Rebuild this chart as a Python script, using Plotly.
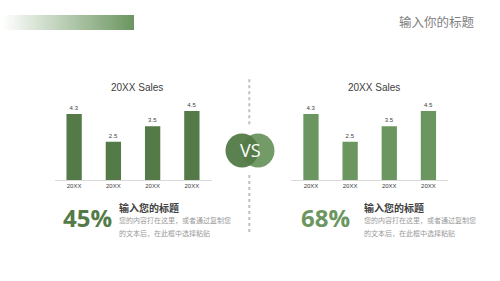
import plotly.graph_objects as go

W, H = 500, 281

categories = ["20XX", "20XX", "20XX", "20XX"]
left_values = [4.3, 2.5, 3.5, 4.5]
right_values = [4.3, 2.5, 3.5, 4.5]
chart_title = "20XX Sales"
page_title = "输入你的标题"
left_pct = "45%"
right_pct = "68%"
sub_title = "输入您的标题"
body_line1 = "您的内容打在这里，或者通过复制您"
body_line2 = "的文本后，在此框中选择粘贴"

DARK = "#537a47"
LIGHT = "#6b9660"
CJK = "Noto Sans CJK SC"


def px(x):
    return x / W


def py(y):
    return 1 - y / H


fig = go.Figure()

idx = list(range(len(categories)))
fig.add_trace(go.Bar(x=idx, y=left_values, marker=dict(color=DARK, line=dict(width=0)),
                     width=0.39, text=[str(v) for v in left_values], textposition="outside",
                     textfont=dict(size=6, color="#404040", family="Liberation Sans"),
                     cliponaxis=False, xaxis="x", yaxis="y"))
fig.add_trace(go.Bar(x=idx, y=right_values, marker=dict(color=LIGHT, line=dict(width=0)),
                     width=0.39, text=[str(v) for v in right_values], textposition="outside",
                     textfont=dict(size=6, color="#404040", family="Liberation Sans"),
                     cliponaxis=False, xaxis="x2", yaxis="y2"))

ybase = py(180)
ytop = py(180 - 5 * 15.33)
axcommon = dict(tickvals=idx, ticktext=categories, range=[-0.5, 3.5], showgrid=False,
                zeroline=False, showline=True, linecolor="#d9d9d9", linewidth=1,
                ticks="", tickfont=dict(size=6, color="#404040", family="Liberation Sans"),
                fixedrange=True)
yaxcommon = dict(range=[0, 5], visible=False, fixedrange=True)

fig.update_layout(
    width=W, height=H, margin=dict(l=0, r=0, t=0, b=0),
    paper_bgcolor="white", plot_bgcolor="rgba(0,0,0,0)", showlegend=False,
    xaxis=dict(domain=[px(54.5), px(211.5)], anchor="y", **axcommon),
    yaxis=dict(domain=[ybase, ytop], anchor="x", **yaxcommon),
    xaxis2=dict(domain=[px(291.4), px(448)], anchor="y2", **axcommon),
    yaxis2=dict(domain=[ybase, ytop], anchor="x2", **yaxcommon),
)

shapes = []
# gradient header bar (1px strips, each overlapping the next)
x0, x1 = 3, 134
n = x1 - x0
for i in range(n):
    t = (i + 0.5) / n
    r = int(255 + (0x6b - 255) * t)
    g = int(255 + (0x96 - 255) * t)
    b = int(255 + (0x60 - 255) * t)
    xe = min(x0 + i + 2, x1)
    shapes.append(dict(type="rect", xref="paper", yref="paper",
                       x0=px(x0 + i), x1=px(xe),
                       y0=py(30), y1=py(15), line=dict(width=0),
                       fillcolor=f"rgb({r},{g},{b})"))

# dotted divider
for seg in [(79.3, 124.3), (175, 232.7)]:
    shapes.append(dict(type="line", xref="paper", yref="paper",
                       x0=px(249.3), x1=px(249.3), y0=py(seg[0]), y1=py(seg[1]),
                       line=dict(color="#bfbfbf", width=2, dash="dot")))

# VS circles
for cx, col in [(258, LIGHT), (242, DARK)]:
    shapes.append(dict(type="circle", xref="paper", yref="paper",
                       x0=px(cx - 16.5), x1=px(cx + 16.5), y0=py(133.5), y1=py(167.5),
                       line=dict(width=0), fillcolor=col, opacity=0.95))

fig.update_layout(shapes=shapes)

ann = []
ann.append(dict(text=page_title, x=px(477), y=py(22), xanchor="right", yanchor="middle",
                font=dict(size=12.5, color="#7f7f7f", family=CJK)))
for cx in [137, 374]:
    ann.append(dict(text=chart_title, x=px(cx), y=py(87), xanchor="center", yanchor="middle",
                    font=dict(size=10, color="#404040", family="Liberation Sans")))
ann.append(dict(text="VS", x=px(250), y=py(150), xanchor="center", yanchor="middle",
                font=dict(size=18, color="white", family="Open Sans")))
for pct, xl, col, tx in [(left_pct, 61, DARK, 117.3), (right_pct, 299, LIGHT, 361.7)]:
    ann.append(dict(text=f"<b>{pct}</b>", x=px(xl), y=py(217), xanchor="left", yanchor="middle",
                    font=dict(size=24, color=col, family="Open Sans")))
    ann.append(dict(text=f"<b>{sub_title}</b>", x=px(tx), y=py(207.5), xanchor="left",
                    yanchor="middle", font=dict(size=10, color="#404040", family=CJK)))
    ann.append(dict(text=body_line1, x=px(tx), y=py(220.3), xanchor="left", yanchor="middle",
                    font=dict(size=7, color="#9a9a9a", family=CJK)))
    ann.append(dict(text=body_line2, x=px(tx), y=py(232.8), xanchor="left", yanchor="middle",
                    font=dict(size=7, color="#9a9a9a", family=CJK)))
for a in ann:
    a.update(xref="paper", yref="paper", showarrow=False)
fig.update_layout(annotations=ann)

fig.write_html("out.html")
